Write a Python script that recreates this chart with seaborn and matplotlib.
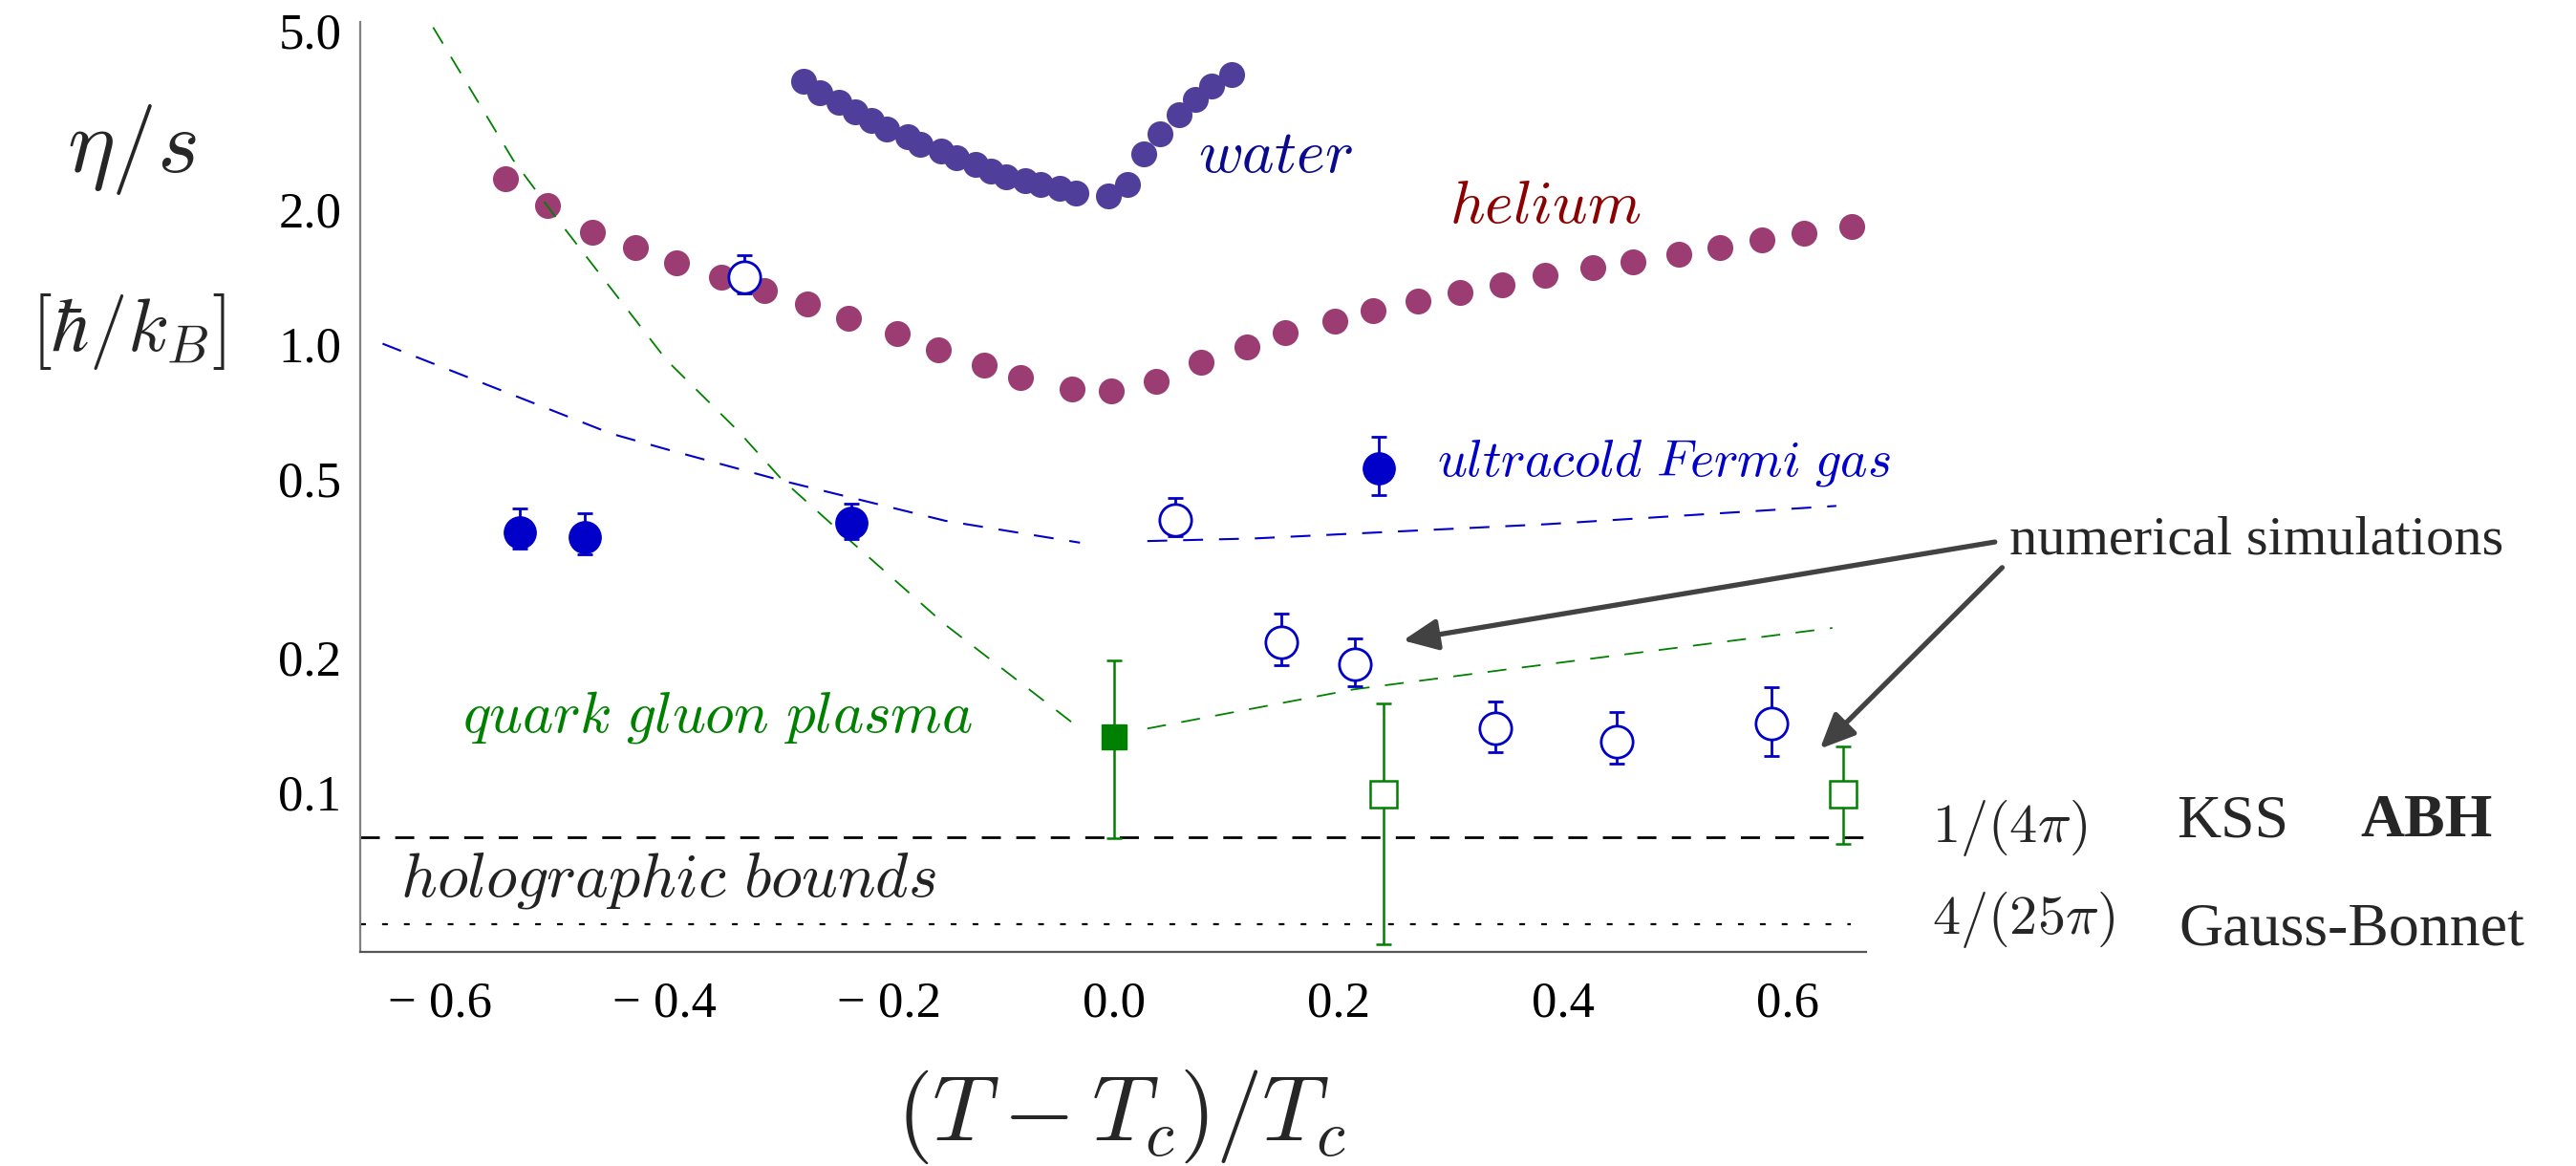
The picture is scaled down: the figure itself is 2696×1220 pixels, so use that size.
import matplotlib
matplotlib.use("Agg")
import numpy as np
import pandas as pd
import matplotlib.pyplot as plt
import seaborn as sns
from matplotlib.ticker import FixedLocator, FixedFormatter, MultipleLocator, NullFormatter

# ---- data ----
water_x = [-0.276, -0.262, -0.245, -0.230, -0.216, -0.202, -0.183, -0.172, -0.154, -0.140,
           -0.123, -0.109, -0.096, -0.079, -0.065, -0.048, -0.034, -0.005, 0.012, 0.027,
           0.041, 0.058, 0.073, 0.087, 0.105]
water_y = [3.855, 3.64, 3.465, 3.30, 3.152, 3.026, 2.904, 2.792, 2.698, 2.603,
           2.512, 2.431, 2.360, 2.314, 2.266, 2.222, 2.175, 2.140, 2.277, 2.655,
           2.953, 3.246, 3.512, 3.761, 3.996]

helium_x = [-0.542, -0.504, -0.464, -0.426, -0.389, -0.349, -0.311, -0.273, -0.236, -0.193,
            -0.156, -0.115, -0.083, -0.037, -0.002, 0.038, 0.078, 0.119, 0.153, 0.197,
            0.231, 0.271, 0.308, 0.346, 0.384, 0.427, 0.462, 0.503, 0.540, 0.577,
            0.615, 0.657]
helium_y = [2.34, 2.037, 1.781, 1.647, 1.522, 1.410, 1.316, 1.229, 1.140, 1.054,
            0.971, 0.898, 0.845, 0.795, 0.786, 0.826, 0.914, 0.987, 1.061, 1.125,
            1.187, 1.247, 1.305, 1.360, 1.422, 1.481, 1.530, 1.588, 1.647, 1.707,
            1.769, 1.834]

fermi_x = [-0.529, -0.471, -0.234, 0.236]
fermi_y = [0.380, 0.371, 0.400, 0.528]
fermi_lo = [0.351, 0.340, 0.368, 0.460]
fermi_hi = [0.430, 0.420, 0.441, 0.622]

sim_x = [-0.329, 0.055, 0.149, 0.215, 0.340, 0.448, 0.586]
sim_y = [1.410, 0.405, 0.217, 0.193, 0.139, 0.130, 0.143]
sim_lo = [1.299, 0.373, 0.192, 0.173, 0.123, 0.116, 0.121]
sim_hi = [1.580, 0.454, 0.251, 0.221, 0.160, 0.151, 0.172]

qgp_x = [0.0]
qgp_y = [0.133]
qgp_lo = [0.079]
qgp_hi = [0.197]

qgp_sim_x = [0.240, 0.650]
qgp_sim_y = [0.099, 0.099]
qgp_sim_lo = [0.046, 0.077]
qgp_sim_hi = [0.158, 0.127]

qgp_left_x = [-0.606, -0.535, -0.497, -0.398, -0.335, -0.296, -0.238, -0.150, -0.030]
qgp_left_y = [5.09, 2.582, 1.923, 0.921, 0.643, 0.501, 0.371, 0.237, 0.139]
qgp_right_x = [0.030, 0.214, 0.355, 0.640]
qgp_right_y = [0.139, 0.170, 0.189, 0.233]

fermi_left_x = [-0.651, -0.4475, -0.398, -0.296, -0.150, -0.030]
fermi_left_y = [1.003, 0.632, 0.583, 0.497, 0.404, 0.361]
fermi_right_x = [0.030, 0.126, 0.386, 0.6435]
fermi_right_y = [0.364, 0.369, 0.397, 0.436]

kss_bound = 1 / (4 * np.pi)
gb_bound = 4 / (25 * np.pi)

y_ticks = [0.1, 0.2, 0.5, 1.0, 2.0, 5.0]
y_ticklabels = ["0.1", "0.2", "0.5", "1.0", "2.0", "5.0"]
y_minor = [0.3, 0.4, 0.6, 0.7, 0.8, 0.9, 3.0, 4.0]
x_ticks = [-0.6, -0.4, -0.2, 0.0, 0.2, 0.4, 0.6]
x_ticklabels = ["\u2212 0.6", "\u2212 0.4", "\u2212 0.2", "0.0", "0.2", "0.4", "0.6"]

# ---- style ----
sns.set_theme(style="white")
plt.rcParams["font.family"] = ["Liberation Serif", "DejaVu Serif"]
plt.rcParams["mathtext.fontset"] = "cm"

c_water = "#503f9a"
c_helium = "#9b3d72"
c_blue = "#0000c8"
c_green = "#008000"
c_axis = "#808080"

fig = plt.figure(figsize=(26.96, 12.2), dpi=100)
ax = fig.add_axes([0.1398, 0.1836, 0.5846, 0.7975])
ax.set_yscale("log")

# dashed guide curves
def dashed(x, y, color, lw, dashes):
    sns.lineplot(x=x, y=y, ax=ax, color=color, lw=lw, sort=False, estimator=None, zorder=3)
    ax.lines[-1].set_dashes(dashes)

dashed(fermi_left_x, fermi_left_y, c_blue, 1.5, (10, 8))
dashed(fermi_right_x, fermi_right_y, c_blue, 1.5, (10, 8))
dashed(qgp_left_x, qgp_left_y, c_green, 1.3, (11, 9))
dashed(qgp_right_x, qgp_right_y, c_green, 1.3, (11, 9))

# bounds
ax.axhline(kss_bound, color="black", lw=2.0, dashes=(7.2, 5.8), zorder=2)
ax.axhline(gb_bound, xmin=0.0, xmax=0.99, color="black", lw=1.6, dashes=(2.7, 7.6), zorder=2)

# water and helium
sns.scatterplot(x=helium_x, y=helium_y, ax=ax, color=c_helium, s=380, linewidth=0, zorder=2)
sns.scatterplot(x=water_x, y=water_y, ax=ax, color=c_water, s=380, linewidth=0, zorder=2)

# ultracold Fermi gas experiment
fy = np.array(fermi_y)
ax.errorbar(fermi_x, fermi_y, yerr=[fy - np.array(fermi_lo), np.array(fermi_hi) - fy],
            fmt="o", color=c_blue, ms=24, elinewidth=2.0, capsize=6, capthick=2.0, zorder=5)

# numerical simulations (open circles)
sy = np.array(sim_y)
ax.errorbar(sim_x, sim_y, yerr=[sy - np.array(sim_lo), np.array(sim_hi) - sy],
            fmt="o", mfc="white", mec=c_blue, mew=2.0, color=c_blue, ms=24,
            elinewidth=2.0, capsize=6, capthick=2.0, zorder=5)

# quark gluon plasma
qy = np.array(qgp_y)
ax.errorbar(qgp_x, qgp_y, yerr=[qy - np.array(qgp_lo), np.array(qgp_hi) - qy],
            fmt="s", color=c_green, ms=19, elinewidth=1.8, capsize=6, capthick=1.8, zorder=5)
qsy = np.array(qgp_sim_y)
ax.errorbar(qgp_sim_x, qgp_sim_y, yerr=[qsy - np.array(qgp_sim_lo), np.array(qgp_sim_hi) - qsy],
            fmt="s", mfc="white", mec=c_green, mew=1.8, color=c_green, ms=20,
            elinewidth=1.8, capsize=6, capthick=1.8, zorder=5)

# axes look
ax.set_xlim(-0.671, 0.670)
ax.set_ylim(0.04415, 5.23)
for side in ["top", "right"]:
    ax.spines[side].set_visible(False)
ax.spines["left"].set_color(c_axis)
ax.spines["bottom"].set_color("#555555")
ax.spines["left"].set_linewidth(1.6)
ax.spines["bottom"].set_linewidth(1.6)

ax.yaxis.set_major_locator(FixedLocator(y_ticks))
ax.yaxis.set_major_formatter(FixedFormatter(y_ticklabels))
ax.yaxis.set_minor_locator(FixedLocator(y_minor))
ax.yaxis.set_minor_formatter(NullFormatter())
ax.xaxis.set_major_locator(FixedLocator(x_ticks))
ax.xaxis.set_major_formatter(FixedFormatter(x_ticklabels))
ax.xaxis.set_minor_locator(MultipleLocator(0.05))

ax.tick_params(axis="both", which="both", direction="in", colors="#444444", labelcolor="black")
ax.tick_params(axis="y", which="major", length=13, width=1.3, pad=14, labelsize=38)
ax.tick_params(axis="y", which="minor", length=5, width=1.1)
ax.tick_params(axis="x", which="major", length=13, width=1.3, pad=22, labelsize=38)
ax.tick_params(axis="x", which="minor", length=6, width=1.1)

# axis labels
fig.text(138 / 2696, 1 - 157 / 1220, r"$\eta/s$", fontsize=68, ha="center", va="center")
fig.text(134 / 2696, 1 - 347 / 1220, r"$[\hbar/k_B]$", fontsize=57, ha="center", va="center")
fig.text(1173 / 2696, 1 - 1168 / 1220, r"$(T-T_c)/T_c$", fontsize=70, ha="center", va="center")

# in-plot labels
ax.text(0.075, 2.42, r"$\mathit{water}$", color="#0a0a8c", fontsize=46, va="baseline")
ax.text(0.299, 1.865, r"$\mathit{helium}$", color="#8b0000", fontsize=46, va="baseline")
ax.text(0.288, 0.510, r"$\mathit{ultracold\ Fermi\ gas}$", color=c_blue, fontsize=39,
        va="baseline")
ax.text(-0.580, 0.1366, r"$\mathit{quark\ gluon\ plasma}$", color=c_green, fontsize=44,
        va="baseline")
ax.text(-0.635, 0.0588, r"$\mathit{holographic\ bounds}$", color="#222222", fontsize=47.5,
        va="baseline")

# bound labels outside the axes
ax.text(0.7286, 0.0776, r"$1/(4\pi)$", fontsize=42, va="baseline", clip_on=False)
ax.text(0.9464, 0.0798, "KSS", fontsize=46, va="baseline", clip_on=False)
ax.text(1.1105, 0.0798, "ABH", fontsize=46, fontweight="bold", va="baseline", clip_on=False)
ax.text(0.7287, 0.0485, r"$4/(25\pi)$", fontsize=42, va="baseline", clip_on=False)
ax.text(0.9487, 0.0458, "Gauss-Bonnet", fontsize=46, va="baseline", clip_on=False)

# numerical simulations annotation
ax.text(0.7976, 0.366, "numerical simulations", fontsize=42, va="center", clip_on=False)
arrow = dict(arrowstyle="-|>,head_length=1.0,head_width=0.45", color="#424242", lw=3.8,
             shrinkA=0, shrinkB=0, mutation_scale=22)
ax.annotate("", xy=(0.2576, 0.2185), xytext=(0.7847, 0.3623), arrowprops=arrow,
            annotation_clip=False)
ax.annotate("", xy=(0.629, 0.1253), xytext=(0.7912, 0.3177), arrowprops=arrow,
            annotation_clip=False)

fig.savefig("out.png", dpi=100)
